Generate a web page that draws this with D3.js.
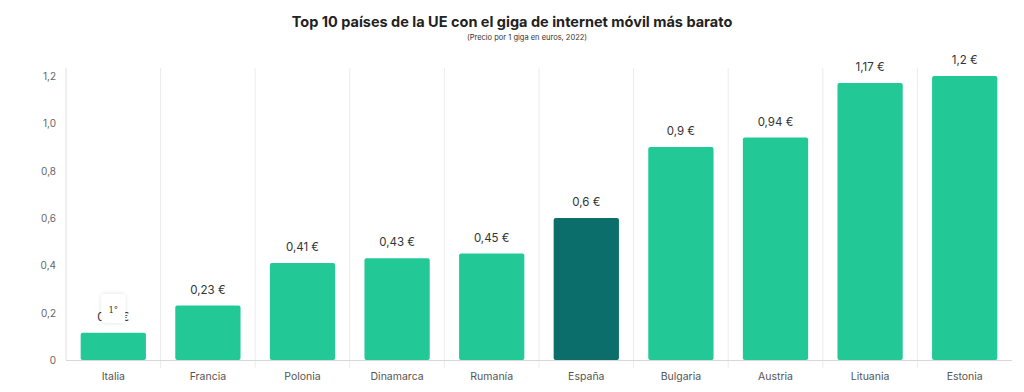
<!DOCTYPE html>
<html><head><meta charset="utf-8">
<script src="https://cdn.jsdelivr.net/npm/d3@7"></script>
<style>body{margin:0;background:#fff;}svg{display:block;font-family:Inter,"Noto Sans",sans-serif;}</style>
</head><body><svg id="c" width="1024" height="392"></svg>
<script>
const categories = ["Italia","Francia","Polonia","Dinamarca","Rumanía","España","Bulgaria","Austria","Lituania","Estonia"];
const values = [0.115,0.23,0.41,0.43,0.45,0.6,0.9,0.94,1.17,1.2];
const labels = ["0,12 €","0,23 €","0,41 €","0,43 €","0,45 €","0,6 €","0,9 €","0,94 €","1,17 €","1,2 €"];
const yTicks = [0,0.2,0.4,0.6,0.8,1.0,1.2];
const highlight = "España";

(function(){
const svg = d3.select("#c");
const mLeft = 66, mRight = 1012, mTop = 76, mBottom = 360;
const x = d3.scaleBand().domain(categories).range([mLeft,mRight]).paddingInner(0.31).paddingOuter(0.155);
const xb = d3.scaleBand().domain(categories).range([mLeft,mRight]);
const y = d3.scaleLinear().domain([0,1.2]).range([mBottom,mTop]);

svg.append("text").attr("x",512).attr("y",27).attr("text-anchor","middle")
  .attr("font-size",14.5).attr("font-weight",700).attr("fill","#222")
  .text("Top 10 países de la UE con el giga de internet móvil más barato");
svg.append("text").attr("x",527).attr("y",40).attr("text-anchor","middle")
  .attr("font-size",7.5).attr("fill","#333")
  .text("(Precio por 1 giga en euros, 2022)");

svg.append("g").selectAll("line").data(categories.slice(1)).join("line")
  .attr("x1",d=>xb(d)).attr("x2",d=>xb(d)).attr("y1",mTop-8).attr("y2",mBottom+8)
  .attr("stroke","#ececec").attr("stroke-width",1);
svg.append("line").attr("x1",mLeft).attr("x2",mLeft).attr("y1",mTop-8).attr("y2",mBottom)
  .attr("stroke","#e0e0e0");
svg.append("line").attr("x1",mLeft).attr("x2",mRight).attr("y1",mBottom+0.5).attr("y2",mBottom+0.5)
  .attr("stroke","#d8d8d8");

svg.append("g").selectAll("text").data(yTicks).join("text")
  .attr("x",56).attr("y",d=>y(d)+4).attr("text-anchor","end")
  .attr("font-size",10).attr("fill","#666")
  .text(d=>d===0?"0":d3.format(".1f")(d).replace(".",","));

svg.append("g").selectAll("rect").data(values).join("rect")
  .attr("x",(d,i)=>x(categories[i])).attr("width",x.bandwidth())
  .attr("y",d=>y(d)).attr("height",d=>mBottom-y(d)).attr("rx",2)
  .attr("fill",(d,i)=>categories[i]===highlight?"#0b6e6b":"#22c996");

svg.append("g").selectAll("text").data(values).join("text")
  .attr("x",(d,i)=>x(categories[i])+x.bandwidth()/2).attr("y",d=>y(d)-12)
  .attr("text-anchor","middle").attr("font-size",11.5).attr("fill","#333")
  .text((d,i)=>labels[i]);

svg.append("g").selectAll("text").data(categories).join("text")
  .attr("x",d=>x(d)+x.bandwidth()/2).attr("y",380)
  .attr("text-anchor","middle").attr("font-size",10.5).attr("fill","#555")
  .text(d=>d);

const bx = x(categories[0])+x.bandwidth()/2;
const defs = svg.append("defs");
const f = defs.append("filter").attr("id","sh").attr("x","-50%").attr("y","-50%").attr("width","200%").attr("height","200%");
f.append("feDropShadow").attr("dx",0).attr("dy",0).attr("stdDeviation",2).attr("flood-color","#000").attr("flood-opacity",0.12);
svg.append("rect").attr("x",bx-12).attr("y",294).attr("width",24).attr("height",29).attr("rx",4)
  .attr("fill","#fff").attr("filter","url(#sh)");
svg.append("text").attr("x",bx).attr("y",313).attr("text-anchor","middle")
  .attr("font-size",8.5).attr("fill","#333").attr("font-family","DejaVu Serif, serif").text("1°");
})();
</script></body></html>
